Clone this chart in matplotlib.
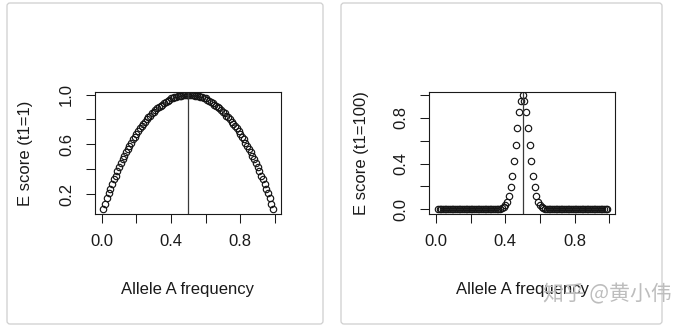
import matplotlib
matplotlib.use('Agg')
import matplotlib.pyplot as plt
from matplotlib.patches import FancyBboxPatch

plt.rcParams['font.family'] = ['Liberation Sans', 'DejaVu Sans']

# allele A frequency grid
freq = [0.01, 0.02, 0.03, 0.04, 0.05, 0.06, 0.07, 0.08, 0.09, 0.10,
        0.11, 0.12, 0.13, 0.14, 0.15, 0.16, 0.17, 0.18, 0.19, 0.20,
        0.21, 0.22, 0.23, 0.24, 0.25, 0.26, 0.27, 0.28, 0.29, 0.30,
        0.31, 0.32, 0.33, 0.34, 0.35, 0.36, 0.37, 0.38, 0.39, 0.40,
        0.41, 0.42, 0.43, 0.44, 0.45, 0.46, 0.47, 0.48, 0.49, 0.50,
        0.51, 0.52, 0.53, 0.54, 0.55, 0.56, 0.57, 0.58, 0.59, 0.60,
        0.61, 0.62, 0.63, 0.64, 0.65, 0.66, 0.67, 0.68, 0.69, 0.70,
        0.71, 0.72, 0.73, 0.74, 0.75, 0.76, 0.77, 0.78, 0.79, 0.80,
        0.81, 0.82, 0.83, 0.84, 0.85, 0.86, 0.87, 0.88, 0.89, 0.90,
        0.91, 0.92, 0.93, 0.94, 0.95, 0.96, 0.97, 0.98, 0.99]

# E score, t1 = 1
e_t1 = [0.08, 0.125, 0.17, 0.21, 0.245, 0.28, 0.32, 0.35, 0.39, 0.42,
        0.45, 0.48, 0.51, 0.54, 0.56, 0.59, 0.61, 0.64, 0.66, 0.68,
        0.71, 0.73, 0.75, 0.76, 0.78, 0.80, 0.82, 0.83, 0.85, 0.86,
        0.88, 0.89, 0.90, 0.91, 0.92, 0.93, 0.94, 0.95, 0.96, 0.97,
        0.97, 0.98, 0.98, 0.99, 0.99, 0.99, 1.00, 1.00, 1.00, 1.00,
        1.00, 1.00, 1.00, 0.99, 0.99, 0.99, 0.98, 0.98, 0.97, 0.97,
        0.96, 0.95, 0.94, 0.93, 0.92, 0.91, 0.90, 0.89, 0.88, 0.86,
        0.85, 0.83, 0.82, 0.80, 0.78, 0.76, 0.75, 0.73, 0.71, 0.68,
        0.66, 0.64, 0.61, 0.59, 0.56, 0.54, 0.51, 0.48, 0.45, 0.42,
        0.39, 0.35, 0.32, 0.28, 0.245, 0.21, 0.17, 0.125, 0.08]

# E score, t1 = 100
e_t100 = [0.0, 0.0, 0.0, 0.0, 0.0, 0.0, 0.0, 0.0, 0.0, 0.0,
          0.0, 0.0, 0.0, 0.0, 0.0, 0.0, 0.0, 0.0, 0.0, 0.0,
          0.0, 0.0, 0.0, 0.0, 0.0, 0.0, 0.0, 0.0, 0.0, 0.0,
          0.0, 0.0, 0.0, 0.0, 0.0, 0.0, 0.003, 0.007, 0.015, 0.032,
          0.064, 0.115, 0.19, 0.29, 0.42, 0.56, 0.71, 0.85, 0.95, 1.00,
          0.95, 0.85, 0.71, 0.56, 0.42, 0.29, 0.19, 0.115, 0.064, 0.032,
          0.015, 0.007, 0.003, 0.0, 0.0, 0.0, 0.0, 0.0, 0.0, 0.0,
          0.0, 0.0, 0.0, 0.0, 0.0, 0.0, 0.0, 0.0, 0.0, 0.0,
          0.0, 0.0, 0.0, 0.0, 0.0, 0.0, 0.0, 0.0, 0.0, 0.0,
          0.0, 0.0, 0.0, 0.0, 0.0, 0.0, 0.0, 0.0, 0.0]

x_ticks = [0.0, 0.2, 0.4, 0.6, 0.8, 1.0]
x_labels = ['0.0', '', '0.4', '', '0.8', '']
y1_ticks = [0.2, 0.4, 0.6, 0.8, 1.0]
y1_labels = ['0.2', '', '0.6', '', '1.0']
y2_ticks = [0.0, 0.2, 0.4, 0.6, 0.8, 1.0]
y2_labels = ['0.0', '', '0.4', '', '0.8', '']

fig = plt.figure(figsize=(6.78, 3.33), dpi=100)

# card borders around each plot
for x0, w in [(0.07, 3.16), (3.41, 3.21)]:
    fig.add_artist(FancyBboxPatch((x0, 0.09), w, 3.21,
                                  boxstyle='round,pad=0,rounding_size=0.03',
                                  transform=fig.dpi_scale_trans,
                                  fc='white', ec='#cfcfcf', lw=0.9, zorder=0))


def panel(rect, y, ylabel, ylim, yticks, ylabels, ylab_x):
    ax = fig.add_axes(rect)
    ax.plot(freq, y, 'o', mfc='none', mec='#151515', ms=4.6, mew=0.85)
    ax.axvline(0.5, color='#3a3a3a', lw=0.9)
    ax.set_xlim(-0.039, 1.035)
    ax.set_ylim(ylim)
    ax.set_xticks(x_ticks, x_labels)
    ax.set_yticks(yticks, ylabels, rotation=90, ha='center', va='center')
    ax.tick_params(direction='out', length=6.5, width=0.75, labelsize=12,
                   colors='#1a1a1a')
    ax.tick_params(axis='x', pad=8)
    ax.tick_params(axis='y', pad=14)
    for s in ax.spines.values():
        s.set_linewidth(0.8)
        s.set_color('#1a1a1a')
    ax.set_xlabel('Allele A frequency', fontsize=12, va='center', color='#1a1a1a')
    ax.xaxis.set_label_coords(0.5, -0.62)
    ax.set_ylabel(ylabel, fontsize=12, va='center', color='#1a1a1a')
    ax.yaxis.set_label_coords(ylab_x, 0.5)
    return ax


panel([0.1401, 0.357, 0.2743, 0.367], e_t1, 'E score (t1=1)',
      (0.042, 1.021), y1_ticks, y1_labels, -0.372)
panel([0.6332, 0.357, 0.2743, 0.367], e_t100, 'E score (t1=100)',
      (-0.044, 1.029), y2_ticks, y2_labels, -0.362)

# watermark, drawn over the right x label as in the source
fig.text(672 / 678, (333 - 294) / 333, '知乎 @黄小伟', ha='right', va='center',
         fontsize=15, color='#bdbdbd', zorder=10,
         family=['Noto Sans CJK SC', 'DejaVu Sans'])

fig.savefig('out.png', dpi=100)
